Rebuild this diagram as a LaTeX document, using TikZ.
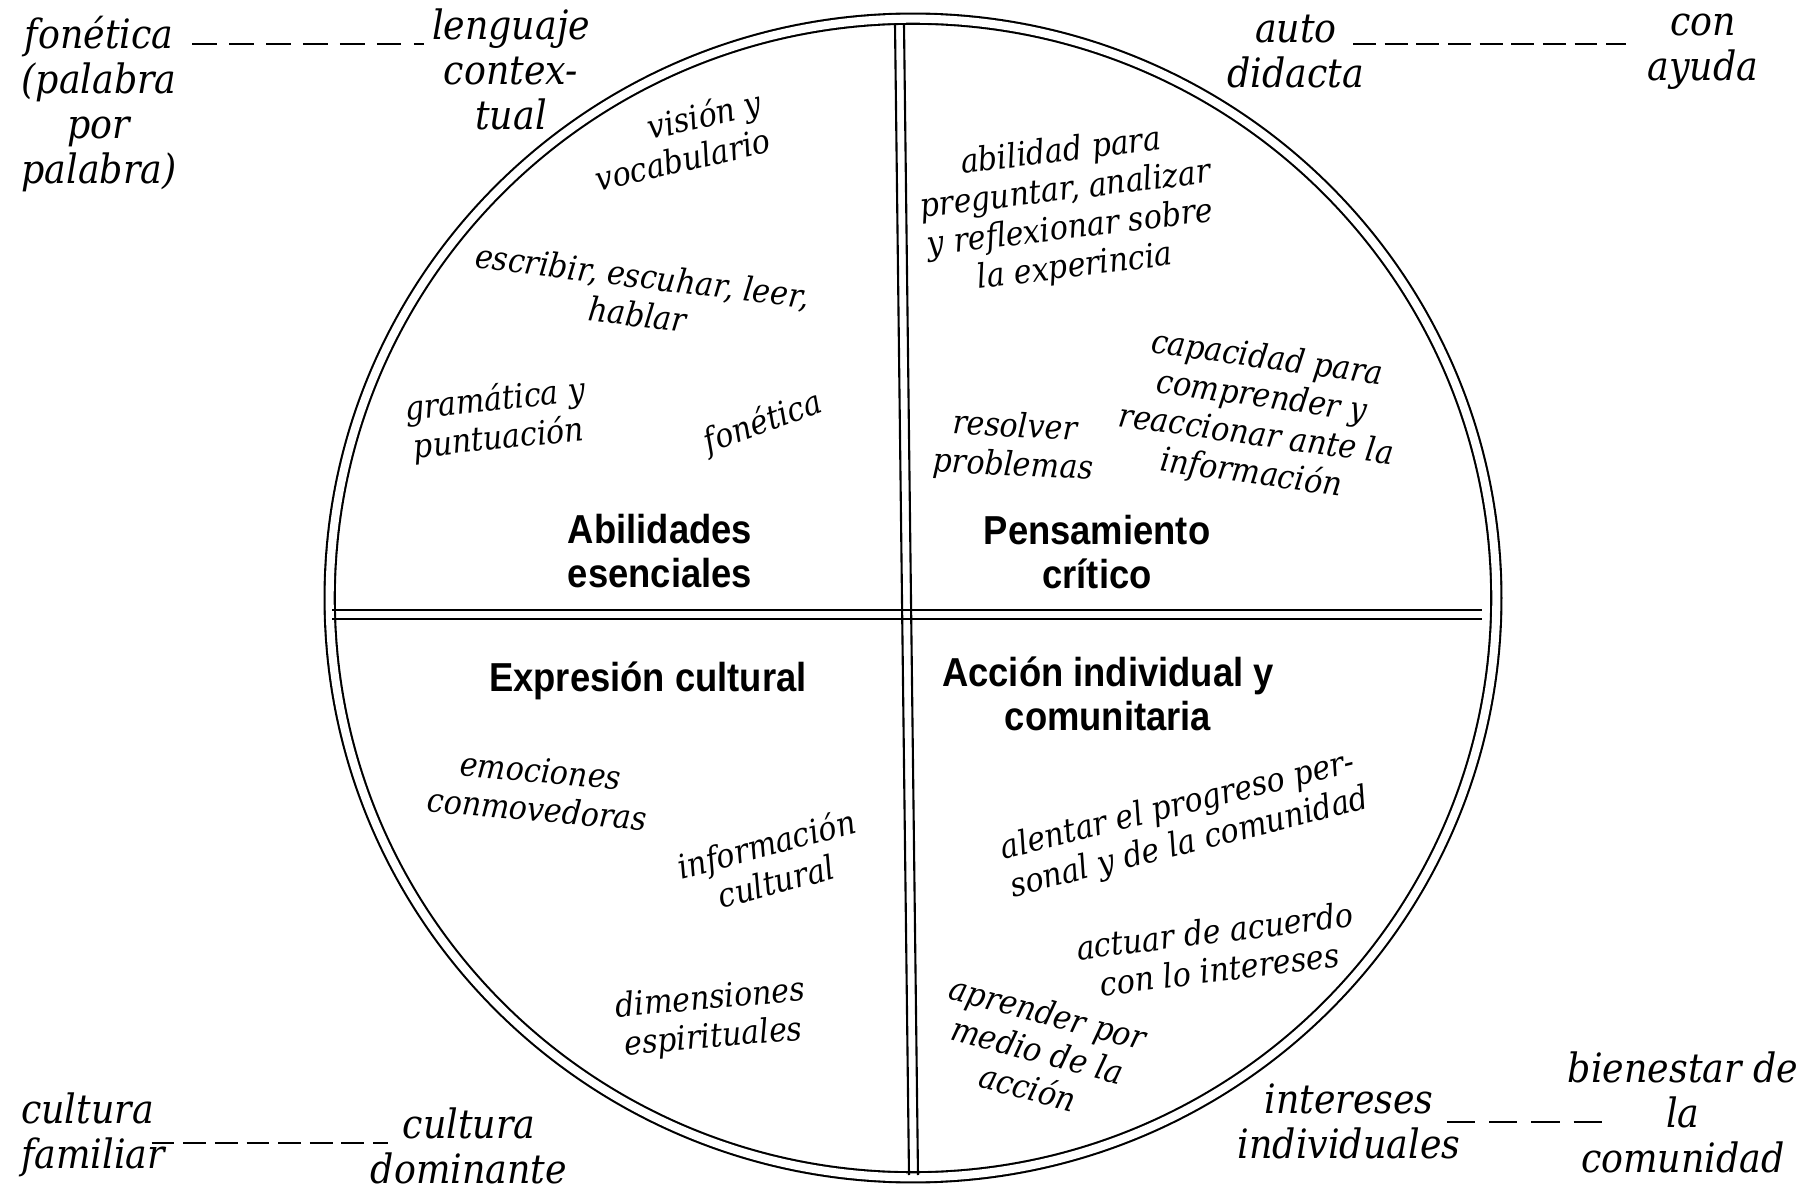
\documentclass[tikz,border=0pt]{standalone}
\usepackage{fontspec}
\setmainfont{DejaVu Serif}[FakeStretch=0.9]
\newfontfamily\headfont{Liberation Sans}[FakeStretch=0.9]
\usepackage{tikz}

\begin{document}
\begin{tikzpicture}[x=0.01cm, y=-0.01cm,
  outlabel/.style={align=center, inner sep=2pt, font=\fontsize{11.5}{12.8}\selectfont\itshape},
  inlabel/.style={align=center, inner sep=1pt, font=\fontsize{9.5}{11}\selectfont\itshape},
  headlabel/.style={align=center, inner sep=1pt, font=\headfont\bfseries\fontsize{11.5}{12.5}\selectfont},
  dashlink/.style={line width=0.7pt, dash pattern=on 6.5pt off 2.5pt},
  rim/.style={line width=0.6pt}]
\useasboundingbox (0,0) rectangle (1820,1191);

\coordinate (c) at (913,598);
\draw[rim, double, double distance=2.3pt] (c) ellipse[x radius=5.83cm, y radius=5.79cm];
\draw[rim] (895,24) -- (909,1175);
\draw[rim] (904,24) -- (918,1175);
\draw[rim] (332,610) -- (1482,610);
\draw[rim] (332,619) -- (1482,619);

\node[outlabel] (fon) at (99,104) {fonética\\(palabra\\por\\palabra)};
\node[outlabel] (leng) at (511,69) {lenguaje\\contex-\\tual};
\node[outlabel] (auto) at (1296,52) {auto\\didacta};
\node[outlabel] (con) at (1703,52) {con\\ayuda};
\node[outlabel, align=left] (culfam) at (93,1135) {cultura\\familiar};
\node[outlabel] (culdom) at (469,1146) {cultura\\dominante};
\node[outlabel] (intind) at (1349,1121) {intereses\\individuales};
\node[outlabel] (bien) at (1683,1112) {bienestar de\\la\\comunidad};

\coordinate (d1) at (0,44);
\coordinate (d2) at (0,44);
\coordinate (d3) at (0,1143);
\coordinate (d4) at (0,1122);
\draw[dashlink, dash pattern=on 7pt off 3.5pt, shorten <=0.08cm] (fon.east |- d1) -- (leng.west |- d1);
\draw[dashlink, shorten <=-0.19cm, shorten >=0.14cm] (auto.east |- d2) -- (con.west |- d2);
\draw[dashlink, shorten <=-0.21cm, shorten >=-0.25cm] (culfam.east |- d3) -- (culdom.west |- d3);
\draw[dashlink, dash pattern=on 8pt off 4pt, shorten <=-0.21cm, shorten >=-0.42cm] (intind.east |- d4) -- (bien.west |- d4);

\node[inlabel, align=right, rotate=13] (vis) at (678,140) {visión y\\vocabulario};
\node[inlabel, rotate=-7] (escr) at (640,295) {escribir, escuhar, leer,\\hablar};
\node[inlabel, rotate=6] (gram) at (497,420) {gramática y\\puntuación};
\node[inlabel, rotate=20] (fonin) at (763,423) {fonética};
\node[headlabel] (habil) at (660,551) {Abilidades\\esenciales};

\node[inlabel, rotate=7] (abil) at (1068,210) {abilidad para\\preguntar, analizar\\y reflexionar sobre\\la experincia};
\node[inlabel, rotate=-8] (capac) at (1259,417) {capacidad para\\comprender y\\reaccionar ante la\\información};
\node[inlabel, rotate=-3] (resol) at (1014,447) {resolver\\problemas};
\node[headlabel] (pens) at (1097,552) {Pensamiento\\crítico};

\node[headlabel] (expr) at (648,681) {Expresión cultural};
\node[inlabel, rotate=-5] (emoc) at (539,790) {emociones\\conmovedoras};
\node[inlabel, rotate=15] (info) at (771,862) {información\\cultural};
\node[inlabel, rotate=5] (dimen) at (712,1019) {dimensiones\\espirituales};

\node[headlabel] (accion) at (1108,694) {Acción individual y\\comunitaria};
\node[inlabel, align=left, rotate=14] (alent) at (1185,825) {alentar el progreso per-\\sonal y de la comunidad};
\node[inlabel, rotate=7] (actuar) at (1217,950) {actuar de acuerdo\\con lo intereses};
\node[inlabel, rotate=-15] (aprend) at (1038,1050) {aprender por\\medio de la\\acción};
\end{tikzpicture}
\end{document}
